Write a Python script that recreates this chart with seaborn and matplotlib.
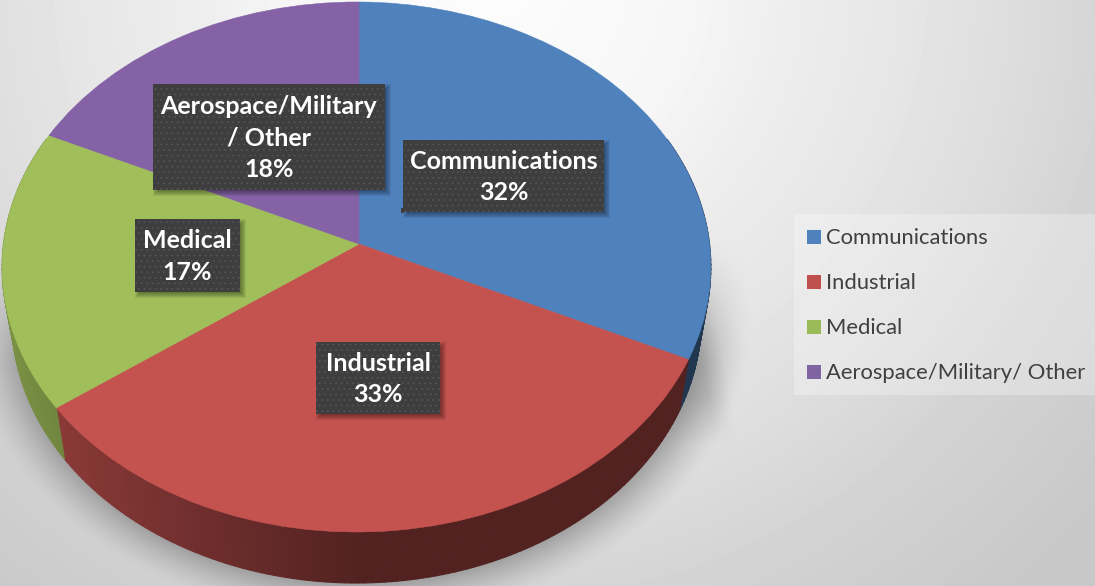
import numpy as np
import matplotlib
matplotlib.use("Agg")
import matplotlib.pyplot as plt
from matplotlib.collections import PolyCollection
from matplotlib.colors import to_rgb
from matplotlib.patches import Rectangle
from matplotlib.transforms import Transform
import seaborn as sns

categories = ["Communications", "Industrial", "Medical", "Aerospace/Military/ Other"]
shares = [32, 33, 17, 18]
slice_labels = ["Communications\n32%", "Industrial\n33%", "Medical\n17%", "Aerospace/Military\n/ Other\n18%"]

W, H = 1095, 586
CX, CY = 359.0, 244.0        # where the disc centre lands on the canvas
TILT_K, TILT_M, TILT_A, TILT_B = 0.0868, 0.007, 353.0, 263.0
ELL_CY, RIM_DROP, RIM_SCALE = 267.0, 51.0, 0.973


class TiltedDisc(Transform):
    """Perspective view of the unit disc, returning canvas pixels."""
    input_dims = 2
    output_dims = 2
    is_separable = False

    def transform_non_affine(self, values):
        u, v = values[:, 0], values[:, 1]
        w = 1 + TILT_K * v + TILT_M * u
        return np.column_stack([CX + TILT_A * u / w, CY - TILT_B * v / w])


def rim_point(p):
    # Matching point on the lower edge of the disc
    return np.column_stack([CX + (p[:, 0] - CX) * RIM_SCALE, p[:, 1] + RIM_DROP])


sns.set_theme(style="white")
plt.rcParams["font.family"] = ["Lato", "DejaVu Sans"]
plt.rcParams["hatch.linewidth"] = 0.5
palette = sns.color_palette(["#4f81bd", "#c4524f", "#a0bf5a", "#8462a5"])
legend_palette = sns.color_palette(["#4f81bd", "#c0504d", "#9bbb59", "#8064a2"])

fig = plt.figure(figsize=(W / 100, H / 100), dpi=100)

# Backdrop: a radial grey falloff with a soft shadow under the disc
bg = fig.add_axes([0, 0, 1, 1], zorder=0)
yy, xx = np.mgrid[0:H, 0:W].astype(float)
r = np.hypot(xx - 490, yy + 20)
base = np.interp(r, [0, 200, 300, 420, 530, 640, 800, 1000], [0.99, 0.965, 0.93, 0.90, 0.865, 0.825, 0.785, 0.77])
dist = np.hypot((xx - CX) / 345.0, (yy - (ELL_CY + RIM_DROP)) / 265.0)
reach = np.clip(1 - (dist - 1) * 300 / 42, 0, 1) ** 1.4
fade = np.clip((yy - 235) / 130, 0, 1)
edge = 700 + (yy - 230) * 0.18
side = np.clip((edge - xx) / 22, 0, 1) * np.clip((yy - 230) / 120, 0, 1) * np.clip((445 - yy) / 50, 0, 1) * (xx > 600)
base = base * (1 - 0.25 * reach * fade) * (1 - 0.09 * side)
bg.imshow(base, cmap="gray", vmin=0, vmax=1, extent=(0, W, H, 0), aspect="auto", interpolation="bilinear")
bg.set_axis_off()

# Disc: top face from pie wedges, rim from shaded strips behind it
ax = fig.add_axes([0, 0, 1, 1], zorder=1)
ax.patch.set_alpha(0)
wedges, _ = ax.pie(shares, colors=palette, startangle=90, counterclock=False, radius=1,
                   wedgeprops={"linewidth": 0.4})
ax.set_aspect("auto")
ax.set_xlim(0, W)
ax.set_ylim(H, 0)
tilt = TiltedDisc()
for wedge, col in zip(wedges, palette):
    wedge.set_edgecolor(col)
    wedge.set_transform(tilt + ax.transData)
    wedge.set_zorder(2)

angles = 90 - np.cumsum([0] + shares) * 3.6
quads, shades = [], []
for a, b, col in zip(angles[:-1], angles[1:], palette):
    steps = np.radians(np.linspace(a, b, int(abs(a - b)) + 2))
    for s, e in zip(steps[:-1], steps[1:]):
        if np.sin(s) > 0.4 and np.sin(e) > 0.4:
            continue
        ends = np.array([[np.cos(s), np.sin(s)], [np.cos(e), np.sin(e)]])
        upper = tilt.transform(ends)
        lower = rim_point(upper)
        quads.append([upper[0], upper[1], lower[1], lower[0]])
        k = 0.42 + 0.35 * max(0.0, -np.cos(0.5 * (s + e)))
        shades.append(tuple(np.array(to_rgb(col)) * k))
ax.add_collection(PolyCollection(quads, facecolors=shades, edgecolors=shades, linewidths=0.8, zorder=1))

# Overlay with the label boxes and the legend
top = fig.add_axes([0, 0, 1, 1], zorder=2)
top.patch.set_alpha(0)
top.set_xlim(0, W)
top.set_ylim(H, 0)
top.set_axis_off()

boxes = [(403, 140, 201, 72), (316, 342, 124, 72), (135, 219, 105, 73), (153, 84, 232, 106)]
for (x, y, w, h), text in zip(boxes, slice_labels):
    # Blurred shadow built from stacked translucent rectangles, falling to the lower right
    for grow in range(3, -4, -1):
        top.add_patch(Rectangle((x + 3 - grow, y + 3 - grow), w + 2 * grow, h + 2 * grow,
                                facecolor="black", alpha=0.07, linewidth=0, zorder=3))
    top.add_patch(Rectangle((x, y), w, h, facecolor="#3e3e3e", edgecolor="#565656", hatch="...",
                            linewidth=0, zorder=3.5))
    top.text(x + w / 2, y + h / 2 + 1, text, color="white", fontsize=18, fontweight="bold", ha="center",
             va="center", linespacing=1.43, zorder=4)
top.add_patch(Rectangle((401, 208), 3, 5, facecolor="#3e3e3e", linewidth=0, zorder=3.5))

top.add_patch(Rectangle((794, 214), 301, 181, facecolor="#ffffff", alpha=0.28, linewidth=0, zorder=1))
for i, (name, col) in enumerate(zip(categories, legend_palette)):
    y = 237 + i * 45
    top.add_patch(Rectangle((807, y - 7), 14, 14, facecolor=col, linewidth=0, zorder=2))
    top.text(826, y + 1, name, color="#404040", fontsize=15.8, ha="left", va="center", zorder=2)

fig.savefig("out.png", dpi=100)
